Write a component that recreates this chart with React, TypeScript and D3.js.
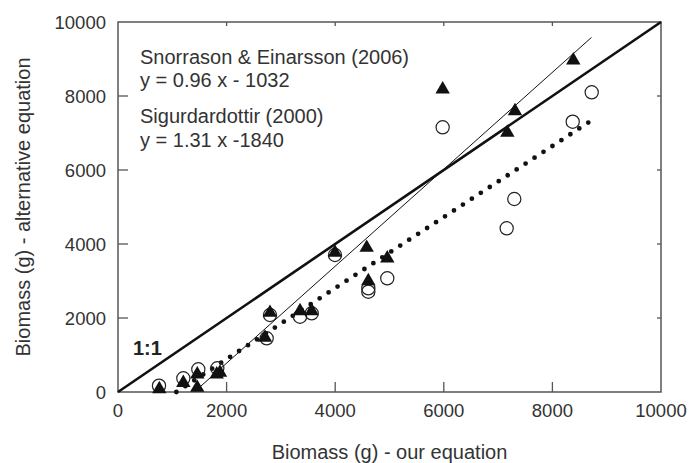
import React from "react";
import * as d3 from "d3";

// x = biomass from our equation, y = biomass from the alternative equations
const triangleX = [761, 1203, 1460, 1460, 1818, 1878, 2707, 2799, 3352, 3567, 3996, 4580, 4610, 4959, 5979, 7170, 7311, 8385];
const triangleY = [108, 278, 505, 143, 505, 549, 1495, 2170, 2216, 2216, 3792, 3927, 3027, 3641, 8208, 7035, 7622, 8992];

const circleX = [755, 1203, 1479, 1829, 2738, 2799, 3352, 3567, 3996, 4610, 4610, 4959, 5979, 7158, 7298, 8374, 8724];
const circleY = [170, 370, 614, 641, 1451, 2081, 2035, 2127, 3703, 2803, 2711, 3073, 7154, 4424, 5216, 7305, 8100];

const ticks = [0, 2000, 4000, 6000, 8000, 10000];

// fitted lines: y = a x + b, drawn over the x range given
const sigurdardottir = { a: 1.31, b: -1840, from: 1420, to: 8720 };
const snorrason = { a: 0.96, b: -1032, from: 1075, to: 8720 };

const annotation = [
  "Snorrason & Einarsson (2006)",
  "y = 0.96 x - 1032",
  "Sigurdardottir (2000)",
  "y = 1.31 x -1840",
];

const W = 689;
const H = 463;
const frameColor = "#555";
const textColor = "#333";
const font = "Arial, 'Liberation Sans', Helvetica, sans-serif";

const App = () => {
  const x = d3.scaleLinear().domain([0, 10000]).range([118, 661]);
  const y = d3.scaleLinear().domain([0, 10000]).range([392, 22]);

  const line = d3
    .line<[number, number]>()
    .x((d) => x(d[0]))
    .y((d) => y(d[1]));

  const fitPath = (f: { a: number; b: number; from: number; to: number }) =>
    line([
      [f.from, f.a * f.from + f.b],
      [f.to, f.a * f.to + f.b],
    ]);

  const tri = d3.symbol(d3.symbolTriangle, 90)();

  return (
    <svg
      width={W}
      height={H}
      style={{ position: "absolute", left: 0, top: 0, background: "#fff" }}
      fontFamily={font}
    >
      {/* frame */}
      <rect
        x={x(0)}
        y={y(10000)}
        width={x(10000) - x(0)}
        height={y(0) - y(10000)}
        fill="none"
        stroke={frameColor}
        strokeWidth={1.5}
      />
      {/* ticks, inward */}
      {ticks.slice(1, -1).map((t) => (
        <g key={"t" + t} stroke={frameColor} strokeWidth={1.3}>
          <line x1={x(t)} x2={x(t)} y1={y(0)} y2={y(0) - 10} />
          <line x1={x(t)} x2={x(t)} y1={y(10000)} y2={y(10000) + 4} />
          <line x1={x(0)} x2={x(0) + 10} y1={y(t)} y2={y(t)} />
          <line x1={x(10000)} x2={x(10000) - 4} y1={y(t)} y2={y(t)} />
        </g>
      ))}
      {/* tick labels */}
      {ticks.map((t) => (
        <text key={"xl" + t} x={x(t)} y={417} textAnchor="middle" fontSize={18.5} fill={textColor}>
          {t}
        </text>
      ))}
      {ticks.map((t) => (
        <text key={"yl" + t} x={106} y={y(t) + 6.5} textAnchor="end" fontSize={18.5} fill={textColor}>
          {t}
        </text>
      ))}
      {/* axis titles */}
      <text x={(x(0) + x(10000)) / 2} y={459} textAnchor="middle" fontSize={20} fill={textColor}>
        Biomass (g) - our equation
      </text>
      <text
        transform={`translate(30,${(y(0) + y(10000)) / 2}) rotate(-90)`}
        textAnchor="middle"
        fontSize={20}
        fill={textColor}
      >
        Biomass (g) - alternative equation
      </text>

      {/* lines */}
      <path d={line([[0, 0], [10000, 10000]]) || ""} stroke="#111" strokeWidth={2.6} fill="none" />
      <path d={fitPath(sigurdardottir) || ""} stroke="#111" strokeWidth={1} fill="none" />
      <path
        d={fitPath(snorrason) || ""}
        stroke="#111"
        strokeWidth={4.8}
        strokeLinecap="round"
        strokeDasharray="0 10.7"
        fill="none"
      />

      {/* points */}
      {circleX.map((cx, i) => (
        <circle key={"c" + i} cx={x(cx)} cy={y(circleY[i])} r={6.6} fill="none" stroke="#222" strokeWidth={1.2} />
      ))}
      {triangleX.map((tx, i) => (
        <path key={"p" + i} d={tri || ""} transform={`translate(${x(tx)},${y(triangleY[i]) + 1})`} fill="#111" />
      ))}

      {/* labels */}
      <text x={133} y={355} fontSize={20} fontWeight="bold" fill="#222">
        1:1
      </text>
      {annotation.map((s, i) => (
        <text key={"a" + i} x={140} y={[64, 87, 123, 147][i]} fontSize={20} fill={textColor}>
          {s}
        </text>
      ))}
    </svg>
  );
};

export default App;
